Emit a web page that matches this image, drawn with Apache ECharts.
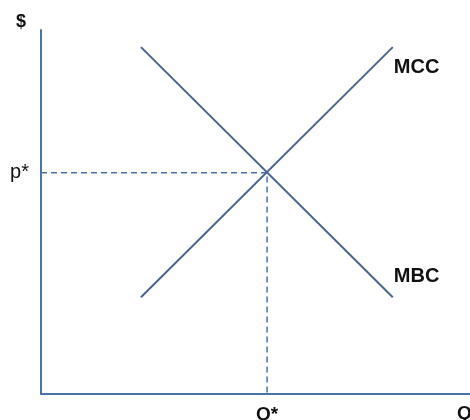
<!DOCTYPE html>
<html>
<head>
<meta charset="utf-8">
<script src="https://cdn.jsdelivr.net/npm/echarts@6/dist/echarts.min.js"></script>
<style>
  html, body { margin: 0; padding: 0; background: #fff; }
  #main { width: 470px; height: 420px; }
</style>
</head>
<body>
<div id="main"></div>
<script>
// 均衡点
const qStar = 5.27;
const pStar = 6.08;

// MCC 与 MBC 两条直线的端点
const mccX = [2.33, 8.2];
const mccY = [2.66, 9.53];
const mbcX = [2.33, 8.2];
const mbcY = [9.53, 2.66];

// 标签文字
const curveNames = ["MCC", "MBC"];
const axisNames = ["Q", "$"];
const starLabels = ["Q*", "p*"];

const font = "Liberation Sans, Arial, sans-serif";
const lineColor = "#4a6594";
const axisColor = "#4a73ad";

const toPairs = (xs, ys) => xs.map((x, i) => [x, ys[i]]);

var myChart = echarts.init(document.getElementById("main"));

var option = {
  animation: false,
  backgroundColor: "#fff",
  grid: { left: 41, right: 0, top: 30, bottom: 26, outerBoundsMode: "none", containLabel: false },
  xAxis: {
    type: "value",
    min: 0,
    max: 10,
    name: axisNames[0],
    nameLocation: "end",
    nameGap: -13,
    nameTextStyle: {
      fontFamily: font,
      fontWeight: "bold",
      fontSize: 19,
      color: "#111",
      align: "left",
      verticalAlign: "top",
      padding: [10, 0, 0, 0],
    },
    axisLine: { show: true, lineStyle: { color: axisColor, width: 2 } },
    axisTick: { show: false },
    splitLine: { show: false },
    axisLabel: {
      customValues: [qStar],
      formatter: () => starLabels[0],
      margin: 11,
      fontFamily: font,
      fontWeight: "bold",
      fontSize: 19,
      color: "#111",
    },
  },
  yAxis: {
    type: "value",
    min: 0,
    max: 10,
    name: axisNames[1],
    nameLocation: "end",
    nameGap: 8,
    nameTextStyle: {
      fontFamily: font,
      fontWeight: "bold",
      fontSize: 18,
      color: "#111",
      align: "right",
      verticalAlign: "middle",
      padding: [0, 15, 0, 0],
    },
    axisLine: { show: true, lineStyle: { color: axisColor, width: 2 } },
    axisTick: { show: false },
    splitLine: { show: false },
    axisLabel: {
      customValues: [pStar],
      formatter: () => starLabels[1],
      margin: 12,
      fontFamily: font,
      fontSize: 20,
      color: "#111",
    },
  },
  series: [
    {
      // 虚线
      type: "line",
      data: [[0, pStar], [qStar, pStar], [qStar, 0]],
      symbol: "none",
      z: 1,
      lineStyle: { color: axisColor, width: 1.5, type: [6, 4] },
    },
    {
      name: curveNames[0],
      type: "line",
      data: toPairs(mccX, mccY),
      symbol: "none",
      lineStyle: { color: lineColor, width: 2 },
      endLabel: {
        show: true,
        formatter: curveNames[0],
        distance: 0,
        offset: [1, 20],
        fontFamily: font,
        fontWeight: "bold",
        fontSize: 20,
        color: "#111",
      },
    },
    {
      name: curveNames[1],
      type: "line",
      data: toPairs(mbcX, mbcY),
      symbol: "none",
      lineStyle: { color: lineColor, width: 2 },
      endLabel: {
        show: true,
        formatter: curveNames[1],
        distance: 0,
        offset: [1, -21],
        fontFamily: font,
        fontWeight: "bold",
        fontSize: 20,
        color: "#111",
      },
    },
  ],
};

myChart.setOption(option);
</script>
</body>
</html>
